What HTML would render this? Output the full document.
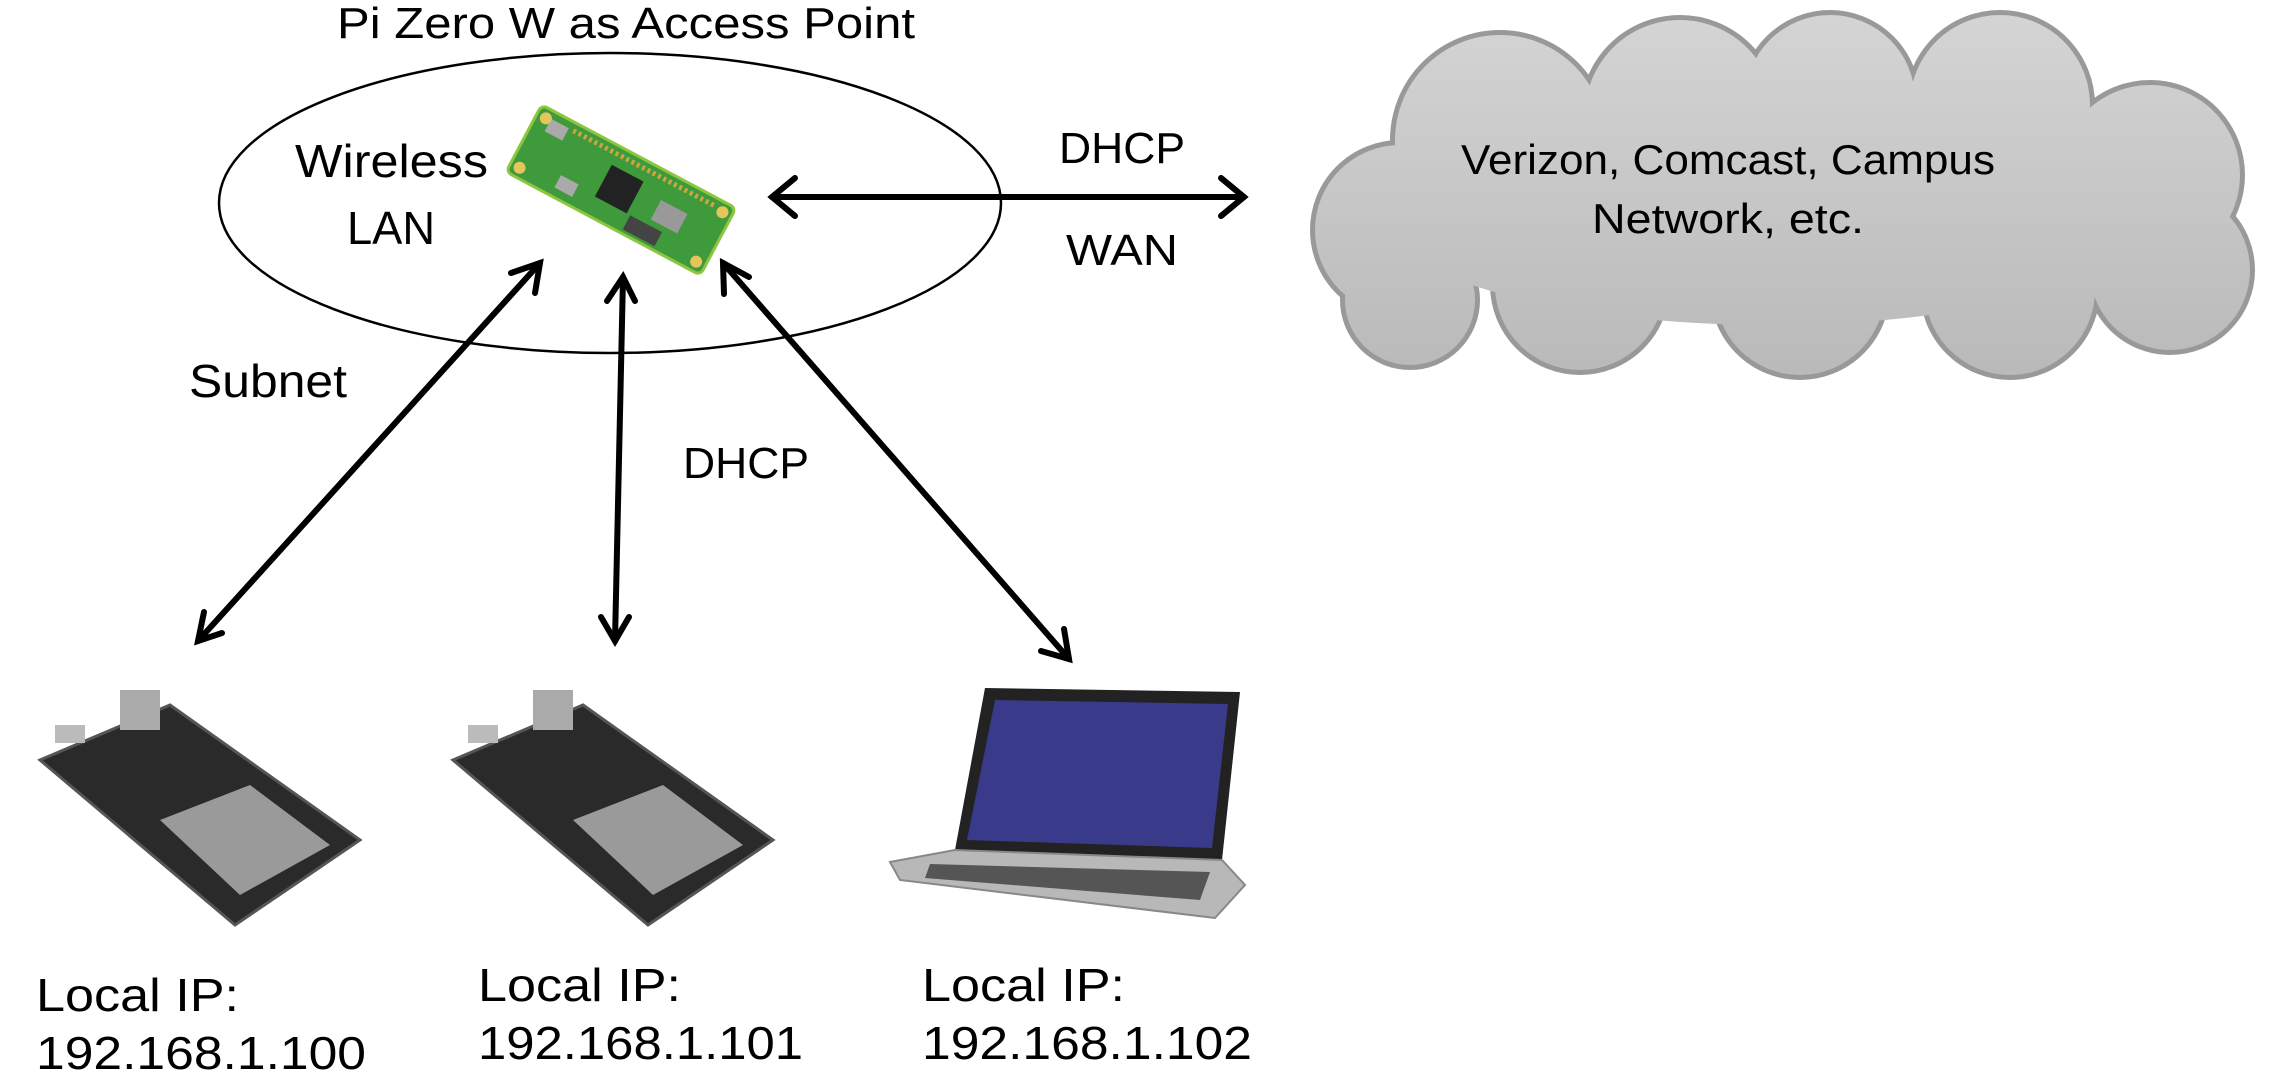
<!DOCTYPE html>
<html><head><meta charset="utf-8"><style>html,body{margin:0;padding:0;background:#fff}svg{display:block}</style></head>
<body>
<svg width="2270" height="1088" viewBox="0 0 2270 1088" xmlns="http://www.w3.org/2000/svg" font-family="Liberation Sans, sans-serif">
<defs>
<linearGradient id="cg" gradientUnits="userSpaceOnUse" x1="0" y1="15" x2="0" y2="380"><stop offset="0" stop-color="#d4d4d4"/><stop offset="1" stop-color="#b9b9b9"/></linearGradient>
</defs>
<text x="626" y="38" font-size="44" text-anchor="middle" textLength="578" lengthAdjust="spacingAndGlyphs">Pi Zero W as Access Point</text>
<ellipse cx="610" cy="203" rx="391" ry="150" fill="none" stroke="#000" stroke-width="2.5"/>
<text x="295" y="177" font-size="46" textLength="193" lengthAdjust="spacingAndGlyphs">Wireless</text>
<text x="347" y="244" font-size="46" textLength="88" lengthAdjust="spacingAndGlyphs">LAN</text>
<g transform="translate(621,190) rotate(28)">
<rect x="-110" y="-38" width="220" height="76" rx="6" fill="#3f9a3c" stroke="#8cc63f" stroke-width="3"/>
<rect x="-20" y="-18" width="36" height="36" fill="#222"/>
<rect x="40" y="-10" width="30" height="22" fill="#999"/>
<rect x="-95" y="-30" width="20" height="14" fill="#aaa"/>
<rect x="-60" y="15" width="20" height="14" fill="#aaa"/>
<rect x="20" y="18" width="36" height="16" fill="#444"/>
<circle cx="-100" cy="-28" r="6" fill="#e5c65a"/><circle cx="100" cy="-28" r="6" fill="#e5c65a"/>
<circle cx="-100" cy="28" r="6" fill="#e5c65a"/><circle cx="100" cy="28" r="6" fill="#e5c65a"/>
<line x1="-70" y1="-30" x2="90" y2="-30" stroke="#c9a640" stroke-width="5" stroke-dasharray="3,3"/>
</g>
<g stroke="#000" stroke-width="6" fill="none" stroke-linecap="round">
<line x1="772" y1="197" x2="1244" y2="197"/>
<polyline points="795,178 772,197 795,216"/>
<polyline points="1221,178 1244,197 1221,216"/>
<line x1="540" y1="263" x2="198" y2="641"/>
<line x1="623" y1="277" x2="615" y2="641"/>
<line x1="723" y1="263" x2="1069" y2="659"/>
<polyline points="511,273 540,263 535,293"/>
<polyline points="222,633 198,641 204,612"/>
<polyline points="607,301 623,277 635,301"/>
<polyline points="601,617 615,641 629,617"/>
<polyline points="724,294 723,263 749,277"/>
<polyline points="1041,651 1069,659 1064,629"/>
</g>
<text x="1122" y="163" font-size="44" text-anchor="middle" textLength="126" lengthAdjust="spacingAndGlyphs">DHCP</text>
<text x="1122" y="265" font-size="44" text-anchor="middle" textLength="112" lengthAdjust="spacingAndGlyphs">WAN</text>
<text x="189" y="397" font-size="46" textLength="158" lengthAdjust="spacingAndGlyphs">Subnet</text>
<text x="746" y="478" font-size="44" text-anchor="middle" textLength="126" lengthAdjust="spacingAndGlyphs">DHCP</text>
<g stroke="#999" stroke-width="10">
<circle cx="1400" cy="230" r="85"/><circle cx="1500" cy="140" r="105"/><circle cx="1680" cy="115" r="95"/>
<circle cx="1830" cy="100" r="85"/><circle cx="2000" cy="105" r="90"/><circle cx="2150" cy="175" r="90"/>
<circle cx="2170" cy="270" r="80"/><circle cx="2010" cy="290" r="85"/><circle cx="1800" cy="290" r="85"/>
<circle cx="1580" cy="285" r="85"/><circle cx="1410" cy="300" r="65"/>
</g>
<g fill="url(#cg)">
<circle cx="1400" cy="230" r="85"/><circle cx="1500" cy="140" r="105"/><circle cx="1680" cy="115" r="95"/>
<circle cx="1830" cy="100" r="85"/><circle cx="2000" cy="105" r="90"/><circle cx="2150" cy="175" r="90"/>
<circle cx="2170" cy="270" r="80"/><circle cx="2010" cy="290" r="85"/><circle cx="1800" cy="290" r="85"/>
<circle cx="1580" cy="285" r="85"/><circle cx="1410" cy="300" r="65"/>
<ellipse cx="1770" cy="205" rx="400" ry="120"/>
</g>
<text x="1728" y="174" font-size="42" text-anchor="middle" textLength="534" lengthAdjust="spacingAndGlyphs">Verizon, Comcast, Campus</text>
<text x="1728" y="233" font-size="42" text-anchor="middle" textLength="272" lengthAdjust="spacingAndGlyphs">Network, etc.</text>
<g>
<polygon points="40,760 170,705 360,840 235,925" fill="#2a2a2a" stroke="#555" stroke-width="3"/>
<polygon points="160,820 250,785 330,845 240,895" fill="#9a9a9a"/>
<rect x="120" y="690" width="40" height="40" fill="#aaa"/>
<rect x="55" y="725" width="30" height="18" fill="#bbb"/>
</g>
<g transform="translate(413,0)">
<polygon points="40,760 170,705 360,840 235,925" fill="#2a2a2a" stroke="#555" stroke-width="3"/>
<polygon points="160,820 250,785 330,845 240,895" fill="#9a9a9a"/>
<rect x="120" y="690" width="40" height="40" fill="#aaa"/>
<rect x="55" y="725" width="30" height="18" fill="#bbb"/>
</g>
<polygon points="985,688 1240,692 1222,860 955,850" fill="#222"/>
<polygon points="995,700 1228,704 1212,848 967,840" fill="#3a3a8a"/>
<polygon points="890,862 955,850 1222,860 1245,885 1215,918 900,880" fill="#b8b8b8" stroke="#888" stroke-width="2"/>
<polygon points="930,864 1210,872 1200,900 925,878" fill="#555"/>
<g font-size="46">
<text x="36" y="1011" textLength="203" lengthAdjust="spacingAndGlyphs">Local IP:</text>
<text x="36" y="1069" textLength="330" lengthAdjust="spacingAndGlyphs">192.168.1.100</text>
<text x="478" y="1001" textLength="203" lengthAdjust="spacingAndGlyphs">Local IP:</text>
<text x="478" y="1059" textLength="325" lengthAdjust="spacingAndGlyphs">192.168.1.101</text>
<text x="922" y="1001" textLength="203" lengthAdjust="spacingAndGlyphs">Local IP:</text>
<text x="922" y="1059" textLength="330" lengthAdjust="spacingAndGlyphs">192.168.1.102</text>
</g>
</svg>
</body></html>
